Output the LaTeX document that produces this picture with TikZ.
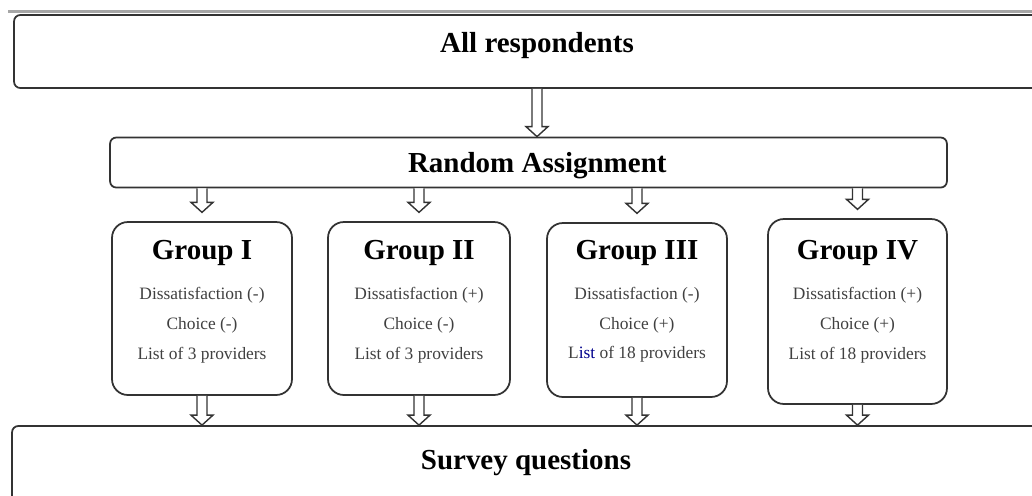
\documentclass[tikz,border=0pt]{standalone}
\usepackage{fontspec}
\setmainfont{Liberation Serif}
\usepackage{xcolor}
\usepackage{tikz}
\usetikzlibrary{calc,positioning}

\newcommand{\hollowarrow}[2]{%
\draw[arr]($(#1)+(-5,0)$)--($(#2)+(-5,-10)$)--($(#2)+(-11,-10)$)--(#2)--($(#2)+(11,-10)$)--($(#2)+(5,-10)$)--($(#1)+(5,0)$);}
\newcommand{\gtitle}[1]{{\color{black}\fontsize{16.5}{20}\selectfont\bfseries #1}\\[5.8pt]}
\newcommand{\gend}[1][-7pt]{\\[#1]\mbox{}}

\begin{document}
\begin{tikzpicture}[x=0.02cm,y=-0.02cm,
box/.style={draw=black!80,line width=1pt,rounded corners=3.5pt,inner sep=0pt},
grp/.style={box,rounded corners=9pt,minimum width=3.6cm,minimum height=3.46cm,align=center,text=black!75,font=\fontsize{9.9}{17}\selectfont},
head/.style={font=\fontsize{16.5}{20}\selectfont\bfseries},
arr/.style={draw=black!80,line width=0.8pt,fill=white}]
\useasboundingbox (0,0) rectangle (1032,495);
\draw[black!35,line width=1.5pt](8,11.5)--(1040,11.5);
\node[box,minimum width=20.92cm,minimum height=1.46cm,label={[head,yshift=3.2pt]center:All respondents}](all) at (537,51.5){};
\node[box,minimum width=16.74cm,minimum height=1cm,label={[head,xshift=5pt,yshift=-2pt]center:Random Assignment}](ra) at (528.5,162.5){};
\node[grp](g1) at (202,308.5){\gtitle{Group I}Dissatisfaction (-)\\Choice (-)\\List of 3 providers\gend};
\node[grp,minimum width=3.64cm](g2) at (419,308.5){\gtitle{Group II}Dissatisfaction (+)\\Choice (-)\\List of 3 providers\gend};
\node[grp,minimum height=3.48cm](g3) at (637,310){\gtitle{Group III}Dissatisfaction (-)\\Choice (+)\\L\textcolor{blue!55!black}{ist} of 18 providers\gend[-5pt]};
\node[grp,minimum width=3.58cm,minimum height=3.7cm](g4) at (857.5,311.5){\gtitle{Group IV}Dissatisfaction (+)\\Choice (+)\\List of 18 providers\gend[-3.5pt]};
\node[box,minimum width=20.56cm,minimum height=1.58cm,label={[head,yshift=1.5pt]center:Survey questions}](sur) at (526,465.5){};
% arrows
\hollowarrow{all.south}{all.south |- ra.north}
\foreach \g in {g1,g2,g3,g4}{
  \coordinate (t\g) at ([yshift=5pt]\g.north);
  \hollowarrow{ra.south -| \g.north}{t\g}
  \hollowarrow{\g.south}{\g.south |- sur.north}
}
\end{tikzpicture}
\end{document}
